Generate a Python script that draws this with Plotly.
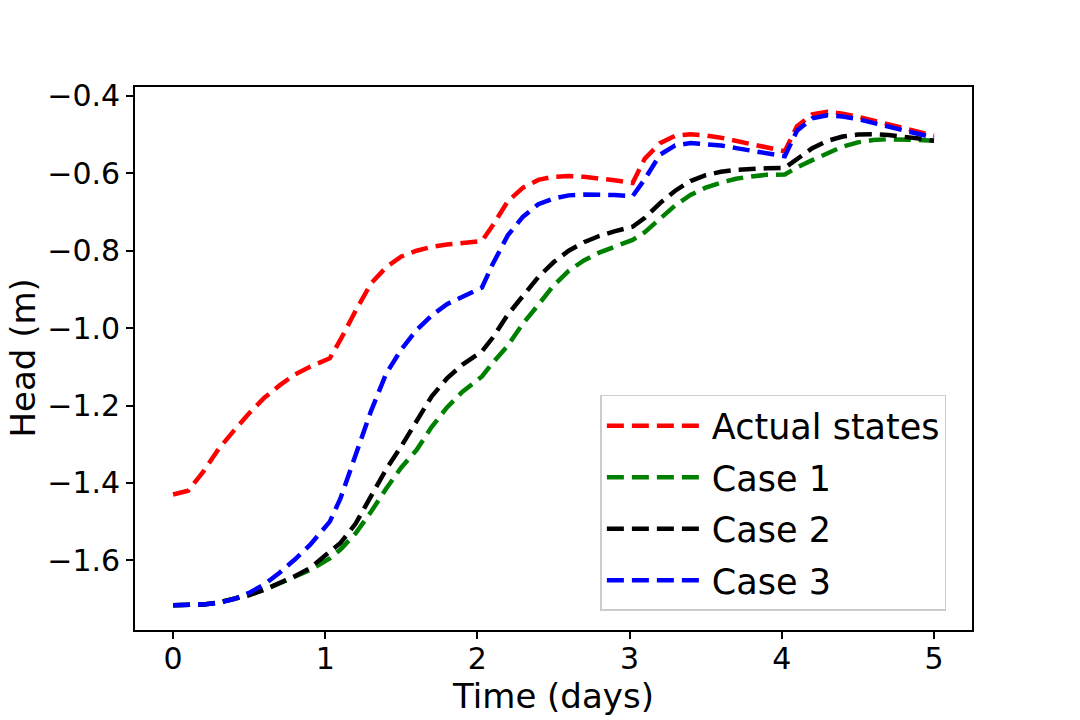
import plotly.graph_objects as go

# time (days) and head (m)
time_days = [0, 0.1, 0.2, 0.3, 0.4, 0.5, 0.6, 0.7, 0.8, 0.9, 1.03,
             1.1, 1.2, 1.3, 1.4, 1.5, 1.6, 1.7, 1.8, 1.9, 2.03,
             2.1, 2.2, 2.3, 2.4, 2.5, 2.6, 2.7, 2.8, 2.9, 3.02,
             3.1, 3.2, 3.3, 3.4, 3.5, 3.6, 3.7, 3.8, 3.9, 4.02,
             4.1, 4.2, 4.3, 4.4, 4.5, 4.6, 4.7, 4.8, 4.9, 5.0]

actual_states = [-1.430, -1.420, -1.370, -1.312, -1.265, -1.220, -1.180, -1.148, -1.120, -1.100, -1.078,
                 -1.030, -0.955, -0.885, -0.843, -0.815, -0.800, -0.790, -0.784, -0.780, -0.775,
                 -0.735, -0.672, -0.637, -0.617, -0.609, -0.607, -0.609, -0.613, -0.618, -0.625,
                 -0.562, -0.522, -0.503, -0.499, -0.502, -0.508, -0.516, -0.526, -0.534, -0.543,
                 -0.478, -0.448, -0.441, -0.446, -0.454, -0.463, -0.473, -0.483, -0.493, -0.503]

case1 = [-1.716, -1.716, -1.714, -1.709, -1.700, -1.690, -1.676, -1.660, -1.643, -1.625, -1.595,
         -1.572, -1.530, -1.475, -1.415, -1.360, -1.315, -1.255, -1.205, -1.165, -1.125,
         -1.090, -1.045, -0.988, -0.940, -0.890, -0.852, -0.825, -0.805, -0.789, -0.772,
         -0.752, -0.718, -0.683, -0.656, -0.637, -0.624, -0.614, -0.608, -0.604, -0.603,
         -0.585, -0.566, -0.547, -0.531, -0.520, -0.514, -0.512, -0.512, -0.514, -0.516]

case2 = [-1.716, -1.716, -1.714, -1.709, -1.700, -1.690, -1.676, -1.660, -1.641, -1.620, -1.580,
         -1.555, -1.505, -1.435, -1.365, -1.305, -1.240, -1.176, -1.130, -1.095, -1.060,
         -1.025, -0.965, -0.915, -0.868, -0.830, -0.800, -0.778, -0.762, -0.750, -0.738,
         -0.715, -0.677, -0.645, -0.620, -0.605, -0.596, -0.591, -0.588, -0.587, -0.586,
         -0.562, -0.535, -0.516, -0.505, -0.500, -0.499, -0.501, -0.505, -0.510, -0.516]

case3 = [-1.716, -1.716, -1.714, -1.710, -1.700, -1.684, -1.662, -1.632, -1.598, -1.560, -1.500,
         -1.440, -1.330, -1.215, -1.118, -1.055, -1.005, -0.967, -0.938, -0.918, -0.895,
         -0.835, -0.760, -0.712, -0.680, -0.665, -0.657, -0.655, -0.655, -0.656, -0.659,
         -0.615, -0.552, -0.528, -0.522, -0.524, -0.528, -0.535, -0.542, -0.548, -0.556,
         -0.490, -0.458, -0.450, -0.453, -0.460, -0.470, -0.480, -0.490, -0.500, -0.508]

series = [("Actual states", actual_states, "#ff0000"),
          ("Case 1", case1, "#008000"),
          ("Case 2", case2, "#000000"),
          ("Case 3", case3, "#0000ff")]

fig = go.Figure()
for name, vals, col in series:
    fig.add_trace(go.Scatter(x=time_days, y=vals, mode="lines", name=name,
                             legendgroup=name,
                             line=dict(color=col, width=4.5, dash="17px,8px")))

axis_style = dict(showline=True, mirror=True, linecolor="black", linewidth=1.7,
                  ticks="outside", ticklen=7, tickwidth=1.7, tickcolor="black",
                  showgrid=False, zeroline=False, automargin=False,
                  tickfont=dict(size=30, color="black"))

# page body has an 8px margin, so margins are trimmed to land the axes where the reference has them
fig.update_layout(
    width=1080, height=720,
    margin=dict(l=127, r=116, t=79, b=98),
    paper_bgcolor="white", plot_bgcolor="white",
    font=dict(family="DejaVu Sans", color="black"),
    xaxis=dict(range=[-0.25, 5.25], tick0=0, dtick=1, ticklabelstandoff=-6,
               title=dict(text="Time (days)", font=dict(size=34), standoff=8),
               **axis_style),
    yaxis=dict(range=[-1.780, -0.377], tick0=-1.6, dtick=0.2, tickformat=".1f",
               **axis_style),
    legend=dict(x=0.556, y=0.433, xanchor="left", yanchor="top",
                bgcolor="white", bordercolor="#cccccc", borderwidth=1.5,
                font=dict(size=35), itemwidth=100, tracegroupgap=3),
)

# y title sits further left than plotly's margin-bound axis title allows
fig.add_annotation(text="Head (m)", xref="paper", yref="paper", x=0, y=0.5,
                   xshift=-113, textangle=-90, showarrow=False, borderpad=0,
                   xanchor="center", yanchor="middle", font=dict(size=34))

fig.write_html("out.html")
